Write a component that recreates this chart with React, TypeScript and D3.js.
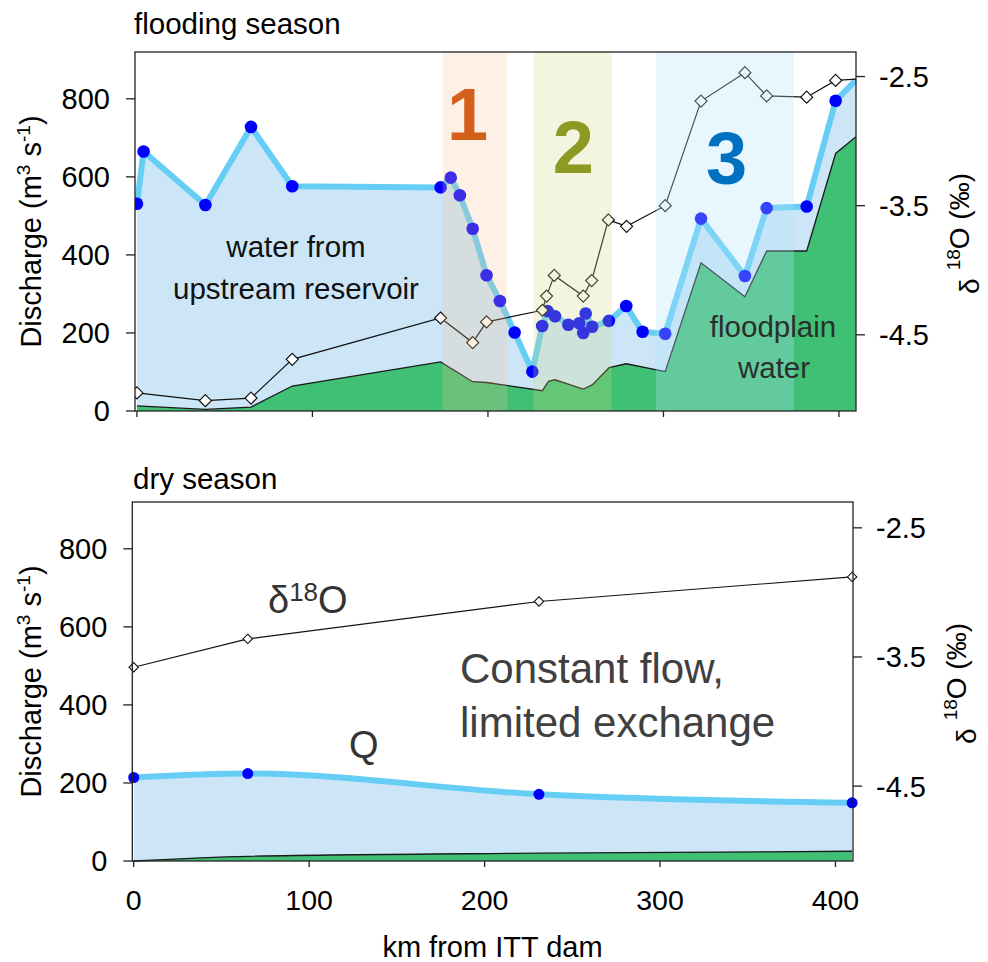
import React from "react";
import * as d3 from "d3";

// ---------- data ----------
// Flooding season: discharge Q (m3/s) along the river (km from ITT dam)
const floodQKm = [0, 3.8, 39, 65, 88.5, 173, 178.8, 184, 191.3, 199.2, 206.8, 215.2, 225.3, 230.9, 234, 238.2, 245.8, 252, 254.3, 255.7, 259.4, 268.9, 278.8, 288.1, 301, 321.4, 346.4, 358.8, 381.6, 398.1];
const floodQ = [531, 665, 528, 728, 576, 573, 598, 553, 467, 348, 282, 201, 101, 218, 256, 243, 221, 225, 200, 250, 216, 231, 269, 203, 198, 493, 346, 520, 524, 795];
const floodQEnd = [409.7, 848];
// Flooding season: floodplain water contribution
const floodGKm = [0, 39, 65, 88.5, 173, 191.3, 199.2, 231, 234.5, 238.2, 254.3, 259.4, 269, 278.8, 301, 321.4, 346.4, 358.8, 381.6, 398.1, 409.7];
const floodG = [13, 4, 10, 64, 126, 75, 73, 52, 76, 80, 56, 67, 111, 121, 101, 380, 293, 410, 410, 660, 703];
// Flooding season: d18O (permil)
const floodDKm = [0, 39, 65, 88.5, 173, 191.3, 199.2, 231, 233.4, 237.8, 254.3, 259.1, 268.6, 279, 301, 321.4, 346.4, 358.8, 381.6, 398.1];
const floodD = [-4.95, -5.01, -4.99, -4.69, -4.37, -4.56, -4.4, -4.31, -4.2, -4.04, -4.2, -4.08, -3.61, -3.66, -3.5, -2.69, -2.47, -2.65, -2.66, -2.53];
const floodDEnd = [409.7, -2.52];
// Reaches 1, 2, 3
const reachLabels = ["1", "2", "3"];
const reachStart = [174.2, 225.8, 295.7];
const reachEnd = [211, 270.5, 374.4];
// Dry season
const dryKm = [0, 65, 231, 409.5];
const dryQ = [214, 224, 171, 149];
const dryD = [-3.58, -3.36, -3.07, -2.88];
const dryG = [0, 12, 20, 25];
// ticks
const qTicks = [0, 200, 400, 600, 800];
const dTicks = [-2.5, -3.5, -4.5];
const kmTicks = [0, 100, 200, 300, 400];

// ---------- styles ----------
const FONT = "'Liberation Sans', Arial, Helvetica, sans-serif";
const reachFill = ["#f5bf90", "#cfd77b", "#b2e1f8"];
const reachOpacity = [0.24, 0.25, 0.3];
const reachText = ["#d2601a", "#8a9a22", "#0070c0"];
const reachLabelX = [467.7, 573.3, 726.7];
const reachLabelY = [140, 173.3, 184];
const BLUE_FILL = "#cce6f8";
const GREEN = "#40c075";
const QLINE = "#66cef5";
const DOT = "#0000ff";

const diamond = {
  draw(ctx: any, size: number) {
    const r = Math.sqrt(size / 2);
    ctx.moveTo(0, -r);
    ctx.lineTo(r, 0);
    ctx.lineTo(0, r);
    ctx.lineTo(-r, 0);
    ctx.closePath();
  },
};

type Panel = {
  x: d3.ScaleLinear<number, number>;
  y: d3.ScaleLinear<number, number>;
  yr: d3.ScaleLinear<number, number>;
};

function Axes({ p, showXLabels }: { p: Panel; showXLabels: boolean }) {
  const [x0, x1] = p.x.range();
  const [yb, yt] = p.y.range();
  return (
    <g fontFamily={FONT} fill="#000">
      <rect x={x0} y={yt} width={x1 - x0} height={yb - yt} fill="none" stroke="#222" strokeWidth={1.3} />
      {qTicks.map((t) => (
        <g key={"q" + t}>
          <line x1={x0 - 9} x2={x0} y1={p.y(t)} y2={p.y(t)} stroke="#222" strokeWidth={1.3} />
          <text x={x0 - 25} y={p.y(t)} dy="0.36em" textAnchor="end" fontSize={29}>{t}</text>
        </g>
      ))}
      {dTicks.map((t) => (
        <g key={"d" + t}>
          <line x1={x1} x2={x1 + 9} y1={p.yr(t)} y2={p.yr(t)} stroke="#222" strokeWidth={1.3} />
          <text x={x1 + 23} y={p.yr(t)} dy="0.36em" textAnchor="start" fontSize={29}>{t.toFixed(1)}</text>
        </g>
      ))}
      {kmTicks.map((t) => (
        <g key={"k" + t}>
          <line x1={p.x(t)} x2={p.x(t)} y1={yb} y2={yb + 6} stroke="#222" strokeWidth={1.3} />
          {showXLabels && (
            <text x={p.x(t)} y={yb + 49} textAnchor="middle" fontSize={28.5}>{t}</text>
          )}
        </g>
      ))}
      <text transform={`translate(41,${(yb + yt) / 2}) rotate(-90)`} textAnchor="middle" fontSize={29}>
        Discharge (m<tspan dy={-11} fontSize={19}>3</tspan>
        <tspan dy={11}> s</tspan>
        <tspan dy={-11} fontSize={19}>-1</tspan>
        <tspan dy={11}>)</tspan>
      </text>
      <text transform={`translate(${x1 + 113},${yt + 121}) rotate(-90)`} textAnchor="end" fontSize={28}>
        <tspan dy={10}>δ</tspan>
        <tspan dy={-19} dx={8} fontSize={19}>18</tspan>
        <tspan dy={9}>O (‰)</tspan>
      </text>
    </g>
  );
}

export default function App() {
  const top: Panel = {
    x: d3.scaleLinear().domain([-1.1, 409.7]).range([135, 856]),
    y: d3.scaleLinear().domain([0, 920]).range([411, 52]),
    yr: d3.scaleLinear().domain([-5.09, -2.31]).range([411, 52]),
  };
  const bot: Panel = {
    x: d3.scaleLinear().domain([-0.8, 410]).range([132.3, 853]),
    y: d3.scaleLinear().domain([0, 920]).range([861, 502]),
    yr: d3.scaleLinear().domain([-5.08, -2.3]).range([861, 502]),
  };

  // flooding season series
  const fQ: [number, number][] = floodQKm.map((k, i) => [k, floodQ[i]]);
  const fQLine: [number, number][] = [...fQ, [floodQEnd[0], floodQEnd[1]]];
  const fG: [number, number][] = floodGKm.map((k, i) => [k, floodG[i]]);
  const fD: [number, number][] = floodDKm.map((k, i) => [k, floodD[i]]);
  const fDLine: [number, number][] = [...fD, [floodDEnd[0], floodDEnd[1]]];

  const areaT = d3.area<[number, number]>().x((d) => top.x(d[0])).y0(top.y(0)).y1((d) => top.y(d[1]));
  const lineT = d3.line<[number, number]>().x((d) => top.x(d[0])).y((d) => top.y(d[1]));
  const lineTR = d3.line<[number, number]>().x((d) => top.x(d[0])).y((d) => top.yr(d[1]));

  // dry season series
  const dQ: [number, number][] = dryKm.map((k, i) => [k, dryQ[i]]);
  const dG: [number, number][] = dryKm.map((k, i) => [k, dryG[i]]);
  const dD: [number, number][] = dryKm.map((k, i) => [k, dryD[i]]);
  const areaB = d3.area<[number, number]>().x((d) => bot.x(d[0])).y0(bot.y(0)).y1((d) => bot.y(d[1])).curve(d3.curveMonotoneX);
  const lineB = d3.line<[number, number]>().x((d) => bot.x(d[0])).y((d) => bot.y(d[1])).curve(d3.curveMonotoneX);
  const lineBR = d3.line<[number, number]>().x((d) => bot.x(d[0])).y((d) => bot.yr(d[1]));

  const diamondBig = d3.symbol(diamond as any, 72)();
  const diamondSmall = d3.symbol(diamond as any, 44)();

  const [tx0, tx1] = top.x.range();
  const [tyb, tyt] = top.y.range();

  return (
    <svg width={988} height={962} style={{ position: "absolute", left: 0, top: 0, background: "#fff" }} fontFamily={FONT}>
      <rect x={0} y={0} width={988} height={962} fill="#fff" />
      {/* ---------- flooding season ---------- */}
      <text x={134} y={34} fontSize={29.5}>flooding season</text>
      <defs>
        <clipPath id="clipTop">
          <rect x={tx0} y={tyt} width={tx1 - tx0} height={tyb - tyt} />
        </clipPath>
      </defs>
      <g clipPath="url(#clipTop)">
        <path d={areaT(fQLine) || ""} fill={BLUE_FILL} />
        <path d={areaT(fG) || ""} fill={GREEN} />
        <path d={lineT(fG) || ""} fill="none" stroke="#1a1a1a" strokeWidth={1.3} />
        <path d={lineT(fQLine) || ""} fill="none" stroke={QLINE} strokeWidth={6} strokeLinejoin="round" />
        {fQ.map((d, i) => (
          <circle key={"fq" + i} cx={top.x(d[0])} cy={top.y(d[1])} r={6.3} fill={DOT} />
        ))}
        <path d={lineTR(fDLine) || ""} fill="none" stroke="#111" strokeWidth={1.2} />
        {fD.map((d, i) => (
          <path key={"fd" + i} d={diamondBig || ""} transform={`translate(${top.x(d[0])},${top.yr(d[1])})`} fill="#fff" stroke="#111" strokeWidth={1.2} />
        ))}
        {reachStart.map((s, i) => (
          <rect key={"band" + i} x={top.x(s)} y={tyt} width={top.x(reachEnd[i]) - top.x(s)} height={tyb - tyt} fill={reachFill[i]} fillOpacity={reachOpacity[i]} />
        ))}
      </g>
      {reachLabels.map((l, i) => (
        <text key={"rl" + i} x={reachLabelX[i]} y={reachLabelY[i]} textAnchor="middle" fontSize={74} fontWeight="bold" fill={reachText[i]}>{l}</text>
      ))}
      <text x={296} y={257} textAnchor="middle" fontSize={29.5} fill="#111">water from</text>
      <text x={296} y={299} textAnchor="middle" fontSize={29.5} fill="#111">upstream reservoir</text>
      <text x={773} y={337} textAnchor="middle" fontSize={29.5} fill="#2a2f2c">floodplain</text>
      <text x={774} y={378} textAnchor="middle" fontSize={29.5} fill="#2a2f2c">water</text>
      <Axes p={top} showXLabels={false} />

      {/* ---------- dry season ---------- */}
      <text x={133} y={489} fontSize={29.5}>dry season</text>
      <path d={areaB(dQ) || ""} fill={BLUE_FILL} />
      <path d={areaB(dG) || ""} fill={GREEN} />
      <path d={lineB(dG) || ""} fill="none" stroke="#1a1a1a" strokeWidth={1.3} />
      <path d={lineB(dQ) || ""} fill="none" stroke={QLINE} strokeWidth={6} />
      {dQ.map((d, i) => (
        <circle key={"dq" + i} cx={bot.x(d[0])} cy={bot.y(d[1])} r={5.5} fill={DOT} />
      ))}
      <path d={lineBR(dD) || ""} fill="none" stroke="#111" strokeWidth={1.1} />
      {dD.map((d, i) => (
        <path key={"dd" + i} d={diamondSmall || ""} transform={`translate(${bot.x(d[0])},${bot.yr(d[1])})`} fill="#fff" stroke="#111" strokeWidth={1.1} />
      ))}
      <text x={268} y={613} fontSize={38} fill="#333">
        δ<tspan dy={-12} fontSize={26}>18</tspan>
        <tspan dy={12}>O</tspan>
      </text>
      <text x={349} y={758} fontSize={38} fill="#333">Q</text>
      <text x={460} y={683} fontSize={42} fill="#404040">Constant flow,</text>
      <text x={460} y={737} fontSize={42} fill="#404040">limited exchange</text>
      <Axes p={bot} showXLabels={true} />
      <text x={492.5} y={957} textAnchor="middle" fontSize={29}>km from ITT dam</text>
    </svg>
  );
}
